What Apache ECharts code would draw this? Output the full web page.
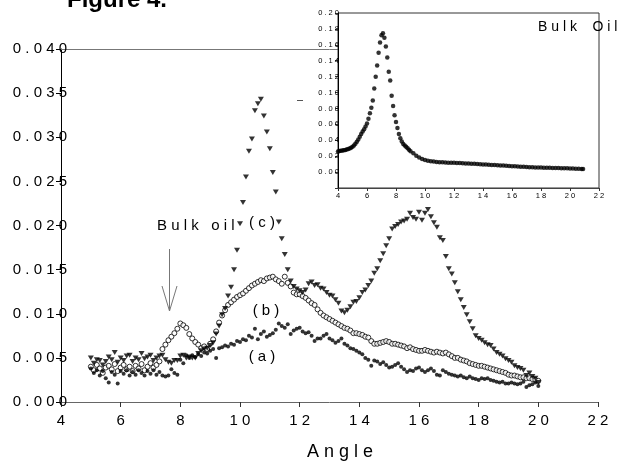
<!DOCTYPE html>
<html>
<head>
<meta charset="utf-8">
<script src="https://cdn.jsdelivr.net/npm/echarts@6/dist/echarts.min.js"></script>
<style>
html,body{margin:0;padding:0;background:#fff;}
#chart{width:621px;height:466px;}
</style>
</head>
<body>
<div id="chart"></div>
<script>
// ---------- DATA ----------
const angles = [
 5.0,5.1,5.2,5.3,5.4,5.5,5.6,5.7,5.8,5.9,
 6.0,6.1,6.2,6.3,6.4,6.5,6.6,6.7,6.8,6.9,
 7.0,7.1,7.2,7.3,7.4,7.5,7.6,7.7,7.8,7.9,
 8.0,8.1,8.2,8.3,8.4,8.5,8.6,8.7,8.8,8.9,
 9.0,9.1,9.2,9.3,9.4,9.5,9.6,9.7,9.8,9.9,
 10.0,10.1,10.2,10.3,10.4,10.5,10.6,10.7,10.8,10.9,
 11.0,11.1,11.2,11.3,11.4,11.5,11.6,11.7,11.8,11.9,
 12.0,12.1,12.2,12.3,12.4,12.5,12.6,12.7,12.8,12.9,
 13.0,13.1,13.2,13.3,13.4,13.5,13.6,13.7,13.8,13.9,
 14.0,14.1,14.2,14.3,14.4,14.5,14.6,14.7,14.8,14.9,
 15.0,15.1,15.2,15.3,15.4,15.5,15.6,15.7,15.8,15.9,
 16.0,16.1,16.2,16.3,16.4,16.5,16.6,16.7,16.8,16.9,
 17.0,17.1,17.2,17.3,17.4,17.5,17.6,17.7,17.8,17.9,
 18.0,18.1,18.2,18.3,18.4,18.5,18.6,18.7,18.8,18.9,
 19.0,19.1,19.2,19.3,19.4,19.5,19.6,19.7,19.8,19.9,
 20.0
];
// (a) filled circles
const seriesA = [
 0.0038,0.0033,0.0036,0.0030,0.0035,0.0027,0.0022,0.0034,0.0031,0.0021,
 0.0035,0.0032,0.0036,0.0030,0.0034,0.0031,0.0036,0.0033,0.0030,0.0035,
 0.0032,0.0036,0.0031,0.0034,0.0030,0.0029,0.0030,0.0037,0.0033,0.0031,
 0.0048,0.0044,0.0053,0.0050,0.0053,0.0051,0.0054,0.0052,0.0056,0.0055,
 0.0058,0.0060,0.0050,0.0061,0.0062,0.0064,0.0063,0.0066,0.0065,0.0069,
 0.0068,0.0071,0.0070,0.0075,0.0073,0.0083,0.0071,0.0077,0.0080,0.0074,
 0.0076,0.0078,0.0082,0.0089,0.0086,0.0084,0.0088,0.0077,0.0081,0.0083,
 0.0084,0.0080,0.0078,0.0079,0.0075,0.0069,0.0072,0.0072,0.0075,0.0077,
 0.0072,0.0070,0.0067,0.0069,0.0072,0.0066,0.0064,0.0061,0.0060,0.0058,
 0.0056,0.0054,0.0050,0.0048,0.0041,0.0047,0.0046,0.0043,0.0045,0.0042,
 0.0039,0.0040,0.0042,0.0044,0.0040,0.0037,0.0034,0.0036,0.0035,0.0038,
 0.0039,0.0036,0.0034,0.0036,0.0038,0.0035,0.0031,0.0030,0.0036,0.0034,
 0.0032,0.0031,0.0030,0.0029,0.0030,0.0028,0.0027,0.0029,0.0027,0.0026,
 0.0025,0.0027,0.0026,0.0027,0.0025,0.0024,0.0023,0.0022,0.0023,0.0021,
 0.0021,0.0022,0.0021,0.0020,0.0021,0.0023,0.0017,0.0019,0.0020,0.0022,
 0.0018
];
// (b) open circles
const seriesB = [
 0.0040,0.0036,0.0042,0.0038,0.0033,0.0039,0.0041,0.0037,0.0043,0.0035,
 0.0039,0.0042,0.0037,0.0040,0.0035,0.0041,0.0038,0.0043,0.0036,0.0040,
 0.0044,0.0039,0.0042,0.0046,0.0060,0.0065,0.0070,0.0074,0.0078,0.0083,
 0.0089,0.0087,0.0084,0.0077,0.0072,0.0068,0.0065,0.0061,0.0063,0.0060,
 0.0066,0.0071,0.0080,0.0090,0.0098,0.0104,0.0110,0.0113,0.0116,0.0119,
 0.0121,0.0123,0.0126,0.0129,0.0132,0.0134,0.0136,0.0138,0.0137,0.0140,
 0.0141,0.0142,0.0139,0.0137,0.0134,0.0142,0.0135,0.0131,0.0124,0.0122,
 0.0122,0.0120,0.0118,0.0115,0.0112,0.0110,0.0105,0.0101,0.0098,0.0096,
 0.0094,0.0092,0.0090,0.0088,0.0086,0.0084,0.0083,0.0081,0.0078,0.0078,
 0.0077,0.0076,0.0074,0.0073,0.0069,0.0066,0.0066,0.0067,0.0068,0.0069,
 0.0068,0.0066,0.0066,0.0065,0.0064,0.0063,0.0061,0.0062,0.0060,0.0059,
 0.0058,0.0058,0.0059,0.0058,0.0057,0.0056,0.0057,0.0056,0.0055,0.0056,
 0.0054,0.0052,0.0050,0.0050,0.0048,0.0047,0.0046,0.0044,0.0043,0.0042,
 0.0041,0.0041,0.0040,0.0039,0.0038,0.0037,0.0036,0.0035,0.0034,0.0033,
 0.0031,0.0030,0.0030,0.0029,0.0028,0.0028,0.0027,0.0027,0.0026,0.0025,
 0.0024
];
// (c) filled down-triangles
const seriesC = [
 0.0050,0.0044,0.0048,0.0047,0.0042,0.0046,0.0051,0.0048,0.0056,0.0045,
 0.0050,0.0047,0.0052,0.0053,0.0046,0.0050,0.0048,0.0055,0.0049,0.0051,
 0.0053,0.0047,0.0050,0.0052,0.0053,0.0048,0.0045,0.0044,0.0047,0.0047,
 0.0052,0.0053,0.0050,0.0051,0.0050,0.0050,0.0055,0.0058,0.0060,0.0061,
 0.0064,0.0067,0.0077,0.0086,0.0099,0.0106,0.0120,0.0130,0.0150,0.0172,
 0.0202,0.0226,0.0255,0.0284,0.0298,0.0330,0.0338,0.0343,0.0324,0.0306,
 0.0287,0.0260,0.0238,0.0204,0.0185,0.0167,0.0150,0.0137,0.0131,0.0128,
 0.0126,0.0124,0.0127,0.0134,0.0136,0.0132,0.0133,0.0129,0.0128,0.0124,
 0.0121,0.0120,0.0116,0.0112,0.0103,0.0101,0.0104,0.0108,0.0113,0.0114,
 0.0118,0.0124,0.0127,0.0132,0.0137,0.0146,0.0151,0.0160,0.0168,0.0177,
 0.0185,0.0196,0.0199,0.0201,0.0204,0.0205,0.0207,0.0214,0.0209,0.0207,
 0.0215,0.0206,0.0214,0.0218,0.0210,0.0203,0.0198,0.0186,0.0183,0.0165,
 0.0151,0.0145,0.0135,0.0125,0.0116,0.0107,0.0099,0.0091,0.0083,0.0075,
 0.0072,0.0070,0.0067,0.0065,0.0064,0.0060,0.0056,0.0054,0.0052,0.0049,
 0.0047,0.0045,0.0041,0.0039,0.0038,0.0036,0.0030,0.0033,0.0029,0.0027,
 0.0022
];
// Inset: Bulk Oil
const insetAngles = [
 4.0,4.1,4.2,4.3,4.4,4.5,4.6,4.7,4.8,4.9,
 5.0,5.1,5.2,5.3,5.4,5.5,5.6,5.7,5.8,5.9,
 6.0,6.1,6.2,6.3,6.4,6.5,6.6,6.7,6.8,6.9,
 7.0,7.1,7.2,7.3,7.4,7.5,7.6,7.7,7.8,7.9,
 8.0,8.1,8.2,8.3,8.4,8.5,8.6,8.7,8.8,8.9,
 9.0,9.2,9.4,9.6,9.8,10.0,10.2,10.4,10.6,10.8,
 11.0,11.2,11.4,11.6,11.8,12.0,12.2,12.4,12.6,12.8,
 13.0,13.2,13.4,13.6,13.8,14.0,14.2,14.4,14.6,14.8,
 15.0,15.2,15.4,15.6,15.8,16.0,16.2,16.4,16.6,16.8,
 17.0,17.2,17.4,17.6,17.8,18.0,18.2,18.4,18.6,18.8,
 19.0,19.2,19.4,19.6,19.8,20.0,20.2,20.4,20.6,20.8,
 20.9
];
const insetValues = [
 0.0260,0.0264,0.0268,0.0271,0.0274,0.0278,0.0283,0.0289,0.0297,0.0306,
 0.0318,0.0334,0.0355,0.0380,0.0410,0.0445,0.0478,0.0510,0.0540,0.0572,
 0.0610,0.0670,0.0740,0.0810,0.0900,0.1050,0.1200,0.1340,0.1500,0.1630,
 0.1720,0.1745,0.1690,0.1580,0.1440,0.1260,0.1150,0.0960,0.0830,0.0715,
 0.0630,0.0555,0.0480,0.0425,0.0385,0.0352,0.0335,0.0320,0.0300,0.0282,
 0.0262,0.0238,0.0205,0.0185,0.0165,0.0152,0.0142,0.0136,0.0132,0.0128,
 0.0125,0.0123,0.0121,0.0119,0.0118,0.0116,0.0115,0.0113,0.0111,0.0109,
 0.0108,0.0106,0.0104,0.0102,0.0100,0.0097,0.0095,0.0093,0.0090,0.0088,
 0.0086,0.0084,0.0082,0.0079,0.0077,0.0075,0.0073,0.0071,0.0068,0.0066,
 0.0064,0.0062,0.0061,0.0059,0.0058,0.0057,0.0056,0.0055,0.0054,0.0053,
 0.0052,0.0050,0.0049,0.0048,0.0047,0.0045,0.0044,0.0042,0.0041,0.0039,
 0.0038
];
// Tick values
const mainXTicks = [4,6,8,10,12,14,16,18,20,22];
const mainYTicks = [0,0.005,0.010,0.015,0.020,0.025,0.030,0.035,0.040];
const insetXTicks = [4,6,8,10,12,14,16,18,20,22];
const insetYTicks = [-0.02,0,0.02,0.04,0.06,0.08,0.10,0.12,0.14,0.16,0.18,0.20];

// Text
const titleText = 'Figure 4.';
const xAxisTitle = 'Angle';
const bulkOilLabel = 'Bulk oil';
const insetLabel = 'Bulk Oil';
const curveLabels = ['(a)', '(b)', '(c)'];

// ---------- CHART ----------
const FONT = '"Liberation Sans", Arial, Helvetica, sans-serif';
const spaced = s => String(s).split('').join(' ');
const zip = (xs, ys) => xs.map((x, i) => [x, ys[i]]);
const step = t => t[1] - t[0];

const chart = echarts.init(document.getElementById('chart'), null, {renderer: 'canvas'});

const option = {
  animation: false,
  backgroundColor: '#fff',
  textStyle: {fontFamily: FONT},
  grid: [
    {left: 61, top: 49, right: 23, bottom: 59},
    {left: 338, top: 13, right: 22, bottom: 278, show: true, backgroundColor: '#fff',
     borderColor: '#333', borderWidth: 1, z: 5}
  ],
  xAxis: [
    {
      gridIndex: 0, type: 'value',
      min: mainXTicks[0], max: mainXTicks[mainXTicks.length - 1], interval: step(mainXTicks),
      axisLine: {show: true, onZero: false, lineStyle: {color: '#666', width: 1}},
      axisTick: {show: true, length: 5, lineStyle: {color: '#333'}},
      splitLine: {show: false},
      axisLabel: {margin: 11, fontSize: 15, color: '#000', fontFamily: FONT,
                  formatter: v => spaced(v)},
      name: spaced(xAxisTitle), nameLocation: 'middle', nameGap: 41,
      nameTextStyle: {fontSize: 18, color: '#000', fontFamily: FONT, padding: [0, 0, 0, 21]}
    },
    {
      gridIndex: 0, type: 'value', position: 'top',
      min: mainXTicks[0], max: mainXTicks[mainXTicks.length - 1], interval: step(mainXTicks),
      axisLine: {show: true, onZero: false, lineStyle: {color: '#777', width: 1}},
      axisTick: {show: false}, axisLabel: {show: false}, splitLine: {show: false}
    },
    {
      gridIndex: 1, type: 'value', z: 6,
      min: insetXTicks[0], max: insetXTicks[insetXTicks.length - 1], interval: step(insetXTicks),
      axisLine: {show: true, onZero: false, lineStyle: {color: '#444', width: 1}},
      axisTick: {show: true, length: 3, lineStyle: {color: '#333'}},
      splitLine: {show: false},
      axisLabel: {margin: 4, fontSize: 7.5, color: '#000', fontFamily: FONT,
                  formatter: v => spaced(v)}
    }
  ],
  yAxis: [
    {
      gridIndex: 0, type: 'value',
      min: mainYTicks[0], max: mainYTicks[mainYTicks.length - 1], interval: step(mainYTicks),
      axisLine: {show: true, onZero: false, lineStyle: {color: '#000', width: 1}},
      axisTick: {show: true, length: 5, lineStyle: {color: '#000'}},
      splitLine: {show: false},
      axisLabel: {margin: -6, fontSize: 15, color: '#000', fontFamily: FONT,
                  formatter: v => spaced(v.toFixed(3))}
    },
    {
      gridIndex: 1, type: 'value', z: 6,
      min: insetYTicks[0], max: insetYTicks[insetYTicks.length - 1], interval: step(insetYTicks),
      axisLine: {show: true, onZero: false, lineStyle: {color: '#000', width: 1}},
      axisTick: {show: true, length: 3, lineStyle: {color: '#333'}},
      splitLine: {show: false},
      axisLabel: {margin: -1, fontSize: 7.5, color: '#000', fontFamily: FONT,
                  formatter: v => (v < -0.001 ? '' : spaced(Math.abs(v).toFixed(2)))}
    }
  ],
  series: [
    {
      name: curveLabels[1], type: 'scatter', xAxisIndex: 0, yAxisIndex: 0,
      data: zip(angles, seriesB), symbol: 'circle', symbolSize: 5,
      itemStyle: {color: '#fff', borderColor: '#000', borderWidth: 1}, z: 2
    },
    {
      name: curveLabels[0], type: 'scatter', xAxisIndex: 0, yAxisIndex: 0,
      data: zip(angles, seriesA), symbol: 'circle', symbolSize: 4,
      itemStyle: {color: '#000'}, z: 3
    },
    {
      name: curveLabels[2], type: 'scatter', xAxisIndex: 0, yAxisIndex: 0,
      data: zip(angles, seriesC), symbol: 'triangle', symbolRotate: 180, symbolSize: [6, 5],
      itemStyle: {color: '#000'}, z: 3
    },
    {
      name: insetLabel, type: 'scatter', xAxisIndex: 2, yAxisIndex: 1,
      data: zip(insetAngles, insetValues), symbol: 'circle', symbolSize: 4.5,
      itemStyle: {color: '#000'}, z: 7
    }
  ],
  graphic: [
    {type: 'text', x: 67, y: 0, z: 10,
     style: {text: titleText, font: 'bold 24px ' + FONT, fill: '#000', align: 'left', verticalAlign: 'middle'}},
    {type: 'line', z: 10, shape: {x1: 297, y1: 100.5, x2: 303, y2: 100.5},
     style: {stroke: '#555', lineWidth: 1}},
    {type: 'text', x: 157, y: 226, z: 10,
     style: {text: 'B u l k   o i l', font: '15px ' + FONT, fill: '#000', align: 'left', verticalAlign: 'middle'}},
    {type: 'line', z: 10, shape: {x1: 169.5, y1: 249, x2: 169.5, y2: 311},
     style: {stroke: '#777', lineWidth: 1}},
    {type: 'polyline', z: 10, shape: {points: [[162, 286], [169.5, 311], [177, 286]]},
     style: {stroke: '#777', lineWidth: 1, fill: null}},
    {type: 'text', x: 262, y: 223, z: 10,
     style: {text: spaced(curveLabels[2]), font: '15px ' + FONT, fill: '#000', align: 'center', verticalAlign: 'middle'}},
    {type: 'text', x: 266, y: 311, z: 10,
     style: {text: spaced(curveLabels[1]), font: '15px ' + FONT, fill: '#000', align: 'center', verticalAlign: 'middle'}},
    {type: 'text', x: 262, y: 357, z: 10,
     style: {text: spaced(curveLabels[0]), font: '15px ' + FONT, fill: '#000', align: 'center', verticalAlign: 'middle'}},
    {type: 'text', x: 538, y: 27, z: 10,
     style: {text: 'B u l k    O i l', font: '14px ' + FONT, fill: '#000', align: 'left', verticalAlign: 'middle'}}
  ]
};
chart.setOption(option);
</script>
</body>
</html>
